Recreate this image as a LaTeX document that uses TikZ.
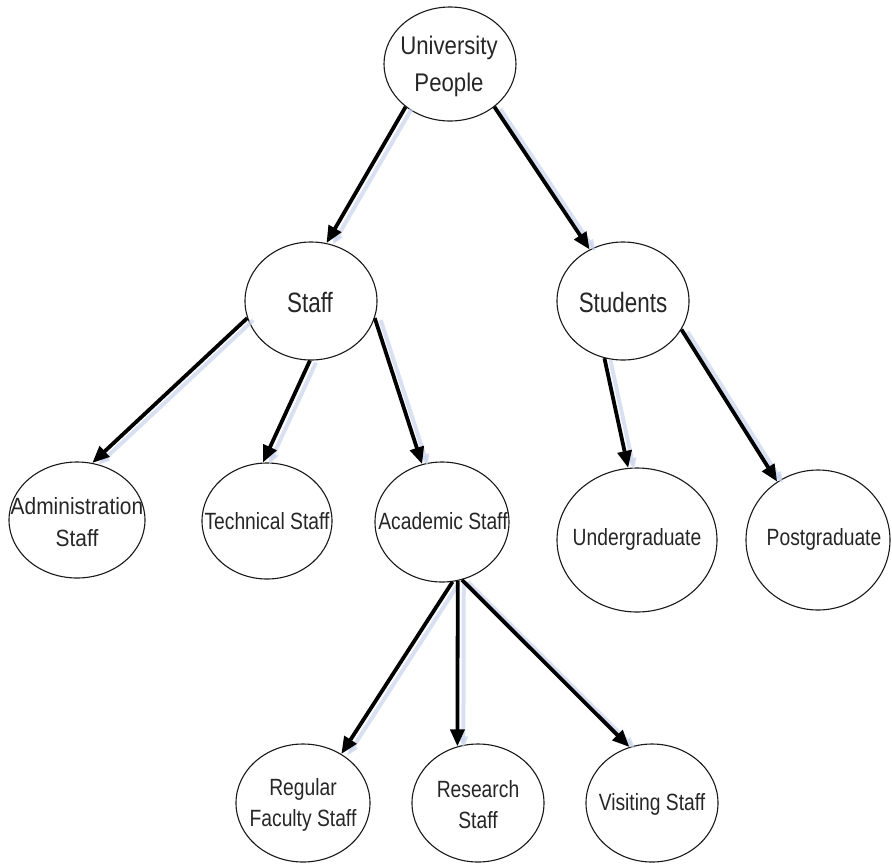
\documentclass[tikz,border=0pt]{standalone}
\usepackage{fontspec}
\setmainfont{Liberation Sans}
\newfontfamily\topfont{Liberation Sans}[FakeStretch=0.87]
\newfontfamily\midfont{Liberation Sans}[FakeStretch=0.80]
\newfontfamily\leaffont{Liberation Sans}[FakeStretch=0.82]
\newfontfamily\widefont{Liberation Sans}[FakeStretch=0.89]
\usetikzlibrary{shapes.geometric,arrows.meta}
\definecolor{halo}{RGB}{200,211,236}

\tikzset{
  ell/.style={draw=black!90, line width=1.1pt, ellipse, inner sep=0pt},
  lbl/.style={align=center, inner sep=0pt, text=black!85,
              font=\leaffont\fontsize{23.5}{31}\selectfont},
  widelbl/.style={lbl, font=\widefont\fontsize{23.5}{32}\selectfont},
  toplbl/.style={lbl, font=\topfont\fontsize{25.5}{37}\selectfont},
  midlbl/.style={lbl, font=\midfont\fontsize{28}{34}\selectfont},
  link/.style={line width=3.8pt, draw=black,
               -{Triangle[length=17pt,width=14pt]}},
  ghost/.style={line width=4pt, draw=halo, opacity=0.7,
                -{Triangle[length=12pt,width=9pt]}},
}

% arrow with its pale offset copy: from node #1 (angle #2) to node #3 (angle #4)
\newcommand\conn[4]{%
  \draw[ghost, transform canvas={xshift=6pt,yshift=-2pt}] (#1.#2) -- (#3.#4);
  \draw[link] (#1.#2) -- (#3.#4);}

\begin{document}
\begin{tikzpicture}[x=1pt,y=-1pt]
  \useasboundingbox (0,0) rectangle (892,863);

  % ellipses
  \node[ell, minimum width=132, minimum height=114] (up)   at (450,64)  {};
  \node[ell, minimum width=132, minimum height=118] (staff) at (311,301) {};
  \node[ell, minimum width=132, minimum height=118] (stud)  at (623,301) {};
  \node[ell, minimum width=136, minimum height=116] (admin) at (77,520)  {};
  \node[ell, minimum width=130, minimum height=116] (tech)  at (267,521) {};
  \node[ell, minimum width=134, minimum height=120] (acad)  at (442,522) {};
  \node[ell, minimum width=160, minimum height=144] (under) at (637,540) {};
  \node[ell, minimum width=144, minimum height=140] (post)  at (818,540) {};
  \node[ell, minimum width=134, minimum height=118] (reg)   at (303,803) {};
  \node[ell, minimum width=132, minimum height=118] (res)   at (478,803) {};
  \node[ell, minimum width=132, minimum height=118] (vis)   at (652,803) {};

  % labels
  \node[toplbl] (up-t)  at (449,66)  {University\\People};
  \node[midlbl] (staff-t) at (310,302) {Staff};
  \node[midlbl] (stud-t)  at (623,302) {Students};
  \node[widelbl] (admin-t) at (77,522)  {Administration\\Staff};
  \node[lbl] (tech-t)  at (267,521) {Technical Staff};
  \node[lbl] (acad-t)  at (443,521) {Academic Staff};
  \node[lbl] (under-t) at (637,539) {Undergraduate};
  \node[lbl] (post-t)  at (824,539) {Postgraduate};
  \node[lbl] (reg-t)   at (303,805) {Regular\\Faculty Staff};
  \node[lbl] (res-t)   at (478,805) {Research\\Staff};
  \node[lbl] (vis-t)   at (652,804) {Visiting Staff};

  % connectors
  \conn{up}{224}{staff}{75}
  \conn{up}{316}{stud}{123}
  \conn{staff}{195}{admin}{75}
  \conn{staff}{269}{tech}{94}
  \conn{staff}{345}{acad}{109}
  \conn{stud}{252}{under}{97}
  \conn{stud}{334}{post}{125}
  \conn{acad}{280}{reg}{52}
  \conn{acad}{285}{res}{110}
  \conn{acad}{289}{vis}{112}
\end{tikzpicture}
\end{document}
